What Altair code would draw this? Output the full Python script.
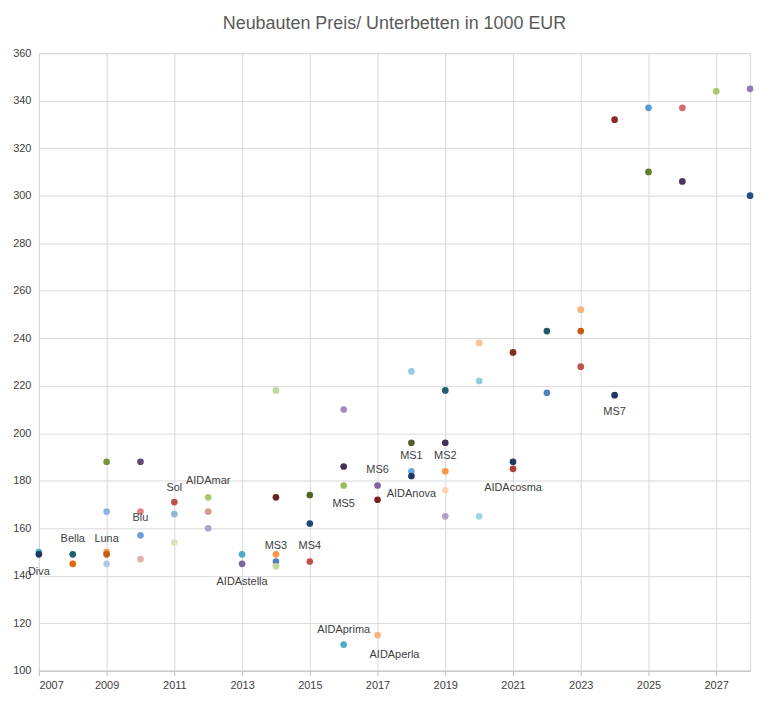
import altair as alt
import pandas as pd

years = [2007, 2007, 2008, 2008, 2009, 2009, 2009, 2009, 2009,
         2010, 2010, 2010, 2010, 2011, 2011, 2011, 2012, 2012, 2012,
         2013, 2013, 2014, 2014, 2014, 2014, 2014, 2015, 2015, 2015,
         2016, 2016, 2016, 2016, 2017, 2017, 2017,
         2018, 2018, 2018, 2018, 2019, 2019, 2019, 2019, 2019,
         2020, 2020, 2020, 2021, 2021, 2021, 2022, 2022,
         2023, 2023, 2023, 2024, 2024, 2025, 2025, 2026, 2026, 2027, 2028, 2028]
prices = [150, 149, 149, 145, 188, 167, 150, 149, 145,
          188, 167, 157, 147, 171, 166, 154, 173, 167, 160,
          149, 145, 218, 173, 149, 146, 144, 174, 162, 146,
          210, 186, 178, 111, 178, 172, 115,
          226, 196, 184, 182, 218, 196, 184, 176, 165,
          238, 222, 165, 234, 188, 185, 243, 217,
          252, 243, 228, 332, 216, 337, 310, 337, 306, 344, 345, 300]
colors = ["#4bacc6", "#1f3864", "#1f5f6e", "#e36c09", "#77933c", "#8db3e2", "#f79646", "#c55a11", "#b4c7e7",
          "#604a7b", "#e6827e", "#6f9fd8", "#e6b0ae", "#c0504d", "#95b3d7", "#d7e4bd", "#a9c96b", "#da9694", "#b2a1c7",
          "#4bacc6", "#8064a2", "#c3d69b", "#632523", "#f79646", "#4f81bd", "#c3d69b", "#4f6228", "#1f497d", "#c0504d",
          "#a08cc0", "#3f3151", "#9bbb59", "#4bacc6", "#8064a2", "#7f1f1f", "#fab47a",
          "#93cddd", "#4f6228", "#6fa8dc", "#1f3864", "#1f5f6e", "#403152", "#f79646", "#fcd5b4", "#b2a1c7",
          "#fcc28f", "#93cddd", "#9fd4e6", "#7f2c1b", "#1f3864", "#b03a36", "#215968", "#4f81bd",
          "#fab47a", "#c55a11", "#c0504d", "#8b2a26", "#1f3864", "#5b9bd5", "#5f7f2a", "#d86b67", "#4b3463", "#a9c96b", "#8f7bb5", "#254f80"]

label_text = ["Diva", "Bella", "Luna", "Blu", "Sol", "AIDAmar", "AIDAstella", "MS3", "MS4",
              "MS5", "AIDAprima", "MS6", "AIDAperla", "MS1", "AIDAnova", "MS2", "AIDAcosma", "MS7"]
label_year = [2007, 2008, 2009, 2010, 2011, 2012, 2013, 2014, 2015,
              2016, 2016, 2017, 2017.5, 2018, 2018, 2019, 2021, 2024]
label_price = [141.5, 155.3, 155.3, 164.2, 177.1, 179.7, 137.3, 152.4, 152.4,
               170.4, 117.2, 184.3, 106.7, 190.6, 174.6, 190.6, 177.1, 209]

pts = pd.DataFrame({"year": years, "price": prices, "idx": list(range(len(years)))})
labels = pd.DataFrame({"year": label_year, "price": label_price, "name": label_text})

x = alt.X("year:Q", scale=alt.Scale(domain=[2007, 2028], nice=False),
          axis=alt.Axis(values=list(range(2007, 2029)), format="d", title=None, labelOverlap=False,
                        labelColor="#404040", labelFontSize=11, tickSize=5, domainColor="#bfbfbf",
                        tickColor="#bfbfbf", gridColor="#d9d9d9", labelPadding=4))
y = alt.Y("price:Q", scale=alt.Scale(domain=[100, 360], nice=False),
          axis=alt.Axis(values=list(range(100, 361, 20)), title=None, labelColor="#404040",
                        labelFontSize=11, ticks=False, domain=False, gridColor="#d9d9d9", labelPadding=8))

points = alt.Chart(pts).mark_circle(size=45, opacity=1).encode(
    x=x, y=y,
    color=alt.Color("idx:N", scale=alt.Scale(domain=list(range(len(years))), range=colors), legend=None),
)
text = alt.Chart(labels).mark_text(fontSize=11, color="#404040", font="Liberation Sans").encode(
    x="year:Q", y="price:Q", text="name:N")

chart = (points + text).properties(
    width=714, height=620,
    title=alt.TitleParams("Neubauten Preis/ Unterbetten in 1000 EUR", fontSize=18,
                          fontWeight="normal", color="#595959", font="Liberation Sans", offset=14),
    padding={"left": 4, "top": 6, "right": 16, "bottom": 4},
).configure_axis(labelFont="Liberation Sans").configure_view(stroke="#d9d9d9")

chart.save("out.html", embed_options={"renderer": "svg", "actions": False})
